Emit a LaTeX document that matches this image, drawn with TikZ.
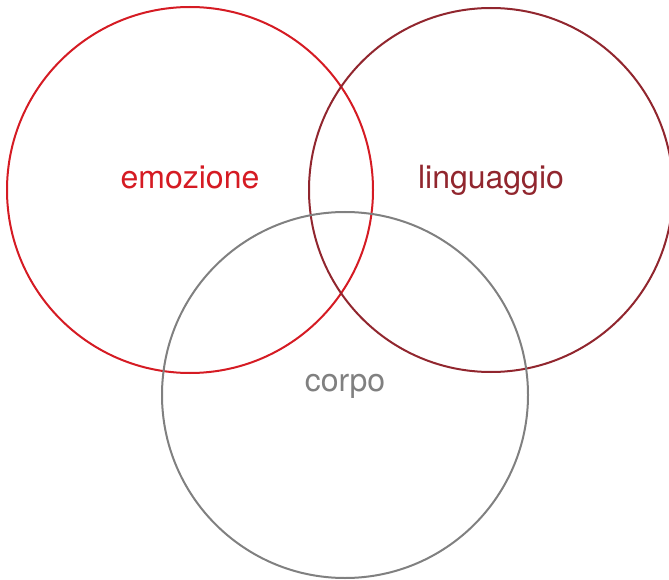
\documentclass[tikz,border=0pt]{standalone}
\usepackage{fontspec}
\setmainfont{TeX Gyre Heros}
\usetikzlibrary{positioning}

\definecolor{emored}{RGB}{213,27,35}
\definecolor{lingred}{RGB}{145,38,46}
\definecolor{corpogray}{RGB}{128,128,128}

\begin{document}
\begin{tikzpicture}[
  x=1pt,y=-1pt,
  ring/.style={line width=2pt},
  lab/.style={font=\fontsize{32}{38}\selectfont,inner sep=0pt,anchor=base}]

% --- frame: same size as the reference ---
\useasboundingbox (0,0) rectangle (669,580);

% --- circle centres ---
\coordinate (E) at (190,190);
\coordinate (L) at (491,190);
\coordinate (C) at (345,395);

% --- the three rings ---
\draw[ring,emored]    (E) circle (183);
\draw[ring,lingred]   (L) circle (182);
\draw[ring,corpogray] (C) circle (183);

% --- labels, baseline just above each centre ---
\node[lab,text=emored]    (emo)  at (190,188.5) {emozione};
\node[lab,text=lingred]   (ling) at (491,188.5) {linguaggio};
\node[lab,text=corpogray] (corp) at (345,391.5) {corpo};

\end{tikzpicture}
\end{document}
